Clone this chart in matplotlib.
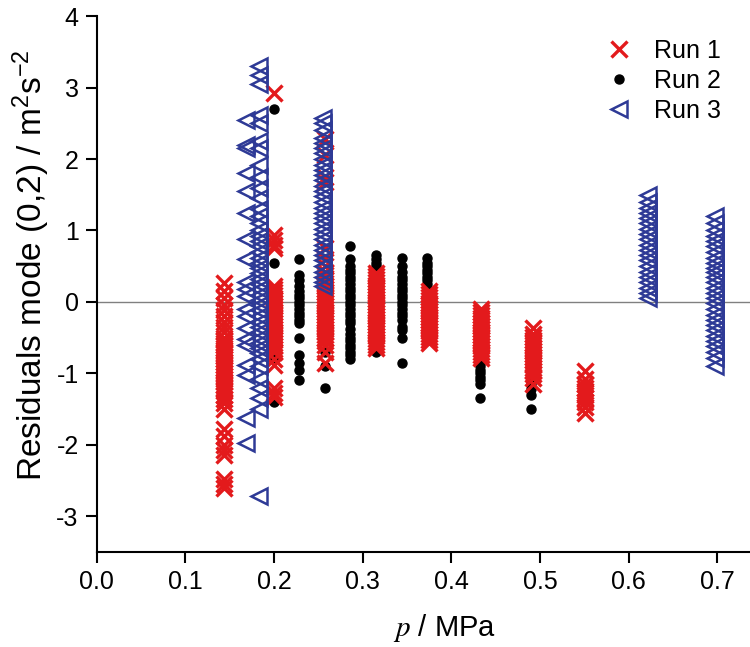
import numpy as np
import matplotlib.pyplot as plt

plt.rcParams['font.family'] = ['Liberation Sans', 'DejaVu Sans']
plt.rcParams['mathtext.fontset'] = 'stix'
plt.rcParams['axes.unicode_minus'] = False

# Run 1 (red crosses): pressure of each column and residuals read per column
run1_p = [0.143, 0.200, 0.258, 0.315, 0.375, 0.434, 0.492, 0.551]
run1_res = [
    [0.27, 0.15, 0.05, -0.05, -0.12, -0.2, -0.28, -0.35, -0.42, -0.5, -0.53, -0.57,
     -0.6, -0.64, -0.68, -0.72, -0.76, -0.8, -0.84, -0.88, -0.92, -0.96, -1.0,
     -1.04, -1.08, -1.12, -1.16, -1.2, -1.25, -1.3, -1.36, -1.42, -1.5, -1.78,
     -1.88, -2.0, -2.08, -2.15, -2.48, -2.55, -2.6],
    [2.93, 0.93, 0.87, 0.8, 0.75, 0.22, 0.18, 0.14, 0.1, 0.06, 0.02, -0.02, -0.06,
     -0.1, -0.14, -0.18, -0.22, -0.26, -0.3, -0.34, -0.38, -0.42, -0.46, -0.5,
     -0.54, -0.58, -0.62, -0.66, -0.7, -0.8, -0.88, -1.2, -1.28, -1.33],
    [2.28, 2.05, 1.75, 1.68, 0.75, 0.6, 0.5, 0.42, 0.38, 0.34, 0.3, 0.26, 0.22,
     0.18, 0.14, 0.1, 0.06, 0.02, -0.02, -0.06, -0.1, -0.14, -0.18, -0.22, -0.26,
     -0.3, -0.34, -0.38, -0.42, -0.46, -0.5, -0.55, -0.6, -0.7, -0.85],
    [0.4, 0.36, 0.32, 0.28, 0.24, 0.2, 0.16, 0.12, 0.08, 0.04, 0.0, -0.04, -0.08,
     -0.12, -0.16, -0.2, -0.24, -0.28, -0.32, -0.36, -0.4, -0.44, -0.48, -0.52,
     -0.56, -0.6, -0.65],
    [0.15, 0.11, 0.07, 0.03, -0.01, -0.05, -0.09, -0.13, -0.17, -0.21, -0.25,
     -0.29, -0.33, -0.37, -0.41, -0.45, -0.49, -0.53, -0.58],
    [-0.1, -0.14, -0.18, -0.22, -0.26, -0.3, -0.34, -0.38, -0.42, -0.46, -0.5,
     -0.54, -0.58, -0.62, -0.66, -0.7, -0.74, -0.78],
    [-0.37, -0.45, -0.49, -0.53, -0.57, -0.61, -0.65, -0.69, -0.73, -0.77, -0.81,
     -0.85, -0.89, -0.93, -0.97, -1.01, -1.07, -1.15],
    [-0.97, -1.08, -1.15, -1.2, -1.25, -1.3, -1.35, -1.4, -1.47, -1.55],
]

# Run 2 (black dots)
run2_p = [0.200, 0.228, 0.258, 0.286, 0.315, 0.344, 0.373, 0.432, 0.490]
run2_res = [
    [2.7, 0.55, -0.12, -0.78, -1.4],
    [0.6, 0.38, 0.3, 0.22, 0.15, 0.1, 0.05, 0.0, -0.05, -0.1, -0.15, -0.2, -0.25,
     -0.3, -0.5, -0.75, -0.85, -0.95, -1.1],
    [0.1, -0.2, -0.7, -0.9, -1.2],
    [0.78, 0.6, 0.5, 0.45, 0.4, 0.35, 0.3, 0.25, 0.2, 0.15, 0.1, 0.05, 0.0, -0.05,
     -0.1, -0.15, -0.2, -0.25, -0.3, -0.38, -0.45, -0.5, -0.55, -0.6, -0.65, -0.7,
     -0.75, -0.8],
    [0.65, 0.6, 0.55, 0.5, 0.45, 0.4, 0.35, -0.7],
    [0.62, 0.5, 0.42, 0.35, 0.3, 0.25, 0.2, 0.15, 0.1, 0.05, 0.0, -0.05, -0.1,
     -0.15, -0.2, -0.25, -0.35, -0.4, -0.5, -0.85],
    [0.62, 0.55, 0.5, 0.45, 0.4, 0.35, 0.3, 0.25, 0.2, 0.15],
    [-0.78, -0.85, -0.9, -0.95, -1.0, -1.05, -1.1, -1.15, -1.35],
    [-1.05, -1.15, -1.22, -1.3, -1.5],
]

# Run 3 (blue triangles)
run3_p = [0.168, 0.183, 0.255, 0.622, 0.698]
run3_res = [
    [2.55, 2.2, 2.15, 1.81, 1.55, 1.25, 0.88, 0.6, 0.28, 0.18, 0.08, -0.1, -0.2,
     -0.37, -0.52, -0.6, -0.88, -1.02, -1.63, -1.98],
    [3.3, 3.18, 3.05, 2.62, 2.5, 2.25, 2.15, 1.92, 1.75, 1.6, 1.45, 1.3, 1.2, 1.1,
     1.0, 0.92, 0.85, 0.78, 0.7, 0.62, 0.55, 0.48, 0.4, 0.32, 0.25, 0.18, 0.1,
     0.02, -0.05, -0.12, -0.2, -0.28, -0.35, -0.42, -0.5, -0.58, -0.65, -0.72,
     -0.8, -0.9, -1.08, -1.2, -1.35, -1.5, -2.72],
    [2.58, 2.5, 2.4, 2.3, 2.22, 2.15, 2.08, 2.0, 1.92, 1.85, 1.78, 1.7, 1.62, 1.55,
     1.48, 1.4, 1.32, 1.25, 1.18, 1.1, 1.02, 0.95, 0.88, 0.8, 0.72, 0.65, 0.58,
     0.5, 0.42, 0.35, 0.28, 0.22],
    [1.5, 1.4, 1.32, 1.25, 1.18, 1.1, 1.02, 0.95, 0.88, 0.8, 0.72, 0.65, 0.58, 0.5,
     0.42, 0.35, 0.28, 0.2, 0.12, 0.06],
    [1.2, 1.1, 1.0, 0.92, 0.85, 0.78, 0.7, 0.62, 0.55, 0.48, 0.42, 0.35, 0.28, 0.2,
     0.12, 0.05, -0.02, -0.1, -0.18, -0.25, -0.32, -0.4, -0.48, -0.55, -0.62, -0.7,
     -0.78, -0.9],
]


def flatten(ps, groups):
    xs, ys = [], []
    for p, g in zip(ps, groups):
        xs += [p] * len(g)
        ys += g
    return xs, ys


x1, y1 = flatten(run1_p, run1_res)
x2, y2 = flatten(run2_p, run2_res)
x3, y3 = flatten(run3_p, run3_res)

fig = plt.figure(figsize=(7.5, 6.47), dpi=100)
ax = fig.add_axes([0.129, 0.147, 0.871, 0.828])

ax.axhline(0, color='#808080', lw=1.0, zorder=1)
ax.plot(x2, y2, 'o', color='black', ms=6.5, ls='none', label='Run 2', zorder=2)
ax.plot(x1, y1, 'x', color='#e31a1c', ms=11, mew=2.4, ls='none', label='Run 1', zorder=3)
ax.plot(x3, y3, '<', mfc='none', mec='#2e3a96', ms=11, mew=1.8, ls='none',
        label='Run 3', zorder=4)

ax.set_xlim(0, 0.737)
ax.set_ylim(-3.5, 4)
ax.set_xticks(np.arange(0, 0.71, 0.1))
ax.set_xticklabels(['0.0', '0.1', '0.2', '0.3', '0.4', '0.5', '0.6', '0.7'])
ax.set_yticks([-3, -2, -1, 0, 1, 2, 3, 4])
ax.spines['top'].set_visible(False)
ax.spines['right'].set_visible(False)
for s in ['left', 'bottom']:
    ax.spines[s].set_linewidth(1.5)
ax.tick_params(direction='out', length=8, width=1.5, labelsize=18, pad=5)

ax.set_ylabel(r'Residuals mode (0,2) / m$\mathregular{^2}$s$\mathregular{^{-2}}$',
              fontsize=24)
ax.yaxis.set_label_coords(-0.068, 0.535)
ax.set_xlabel(r'$p$ / MPa', fontsize=21)
ax.xaxis.set_label_coords(0.533, -0.112)

h, l = ax.get_legend_handles_labels()
order = [1, 0, 2]
ax.legend([h[i] for i in order], [l[i] for i in order], loc='upper right',
          bbox_to_anchor=(0.99, 1.0), frameon=False, fontsize=18,
          handletextpad=0.9, labelspacing=0.25, handlelength=1.0)

fig.savefig('out.png', dpi=100)
